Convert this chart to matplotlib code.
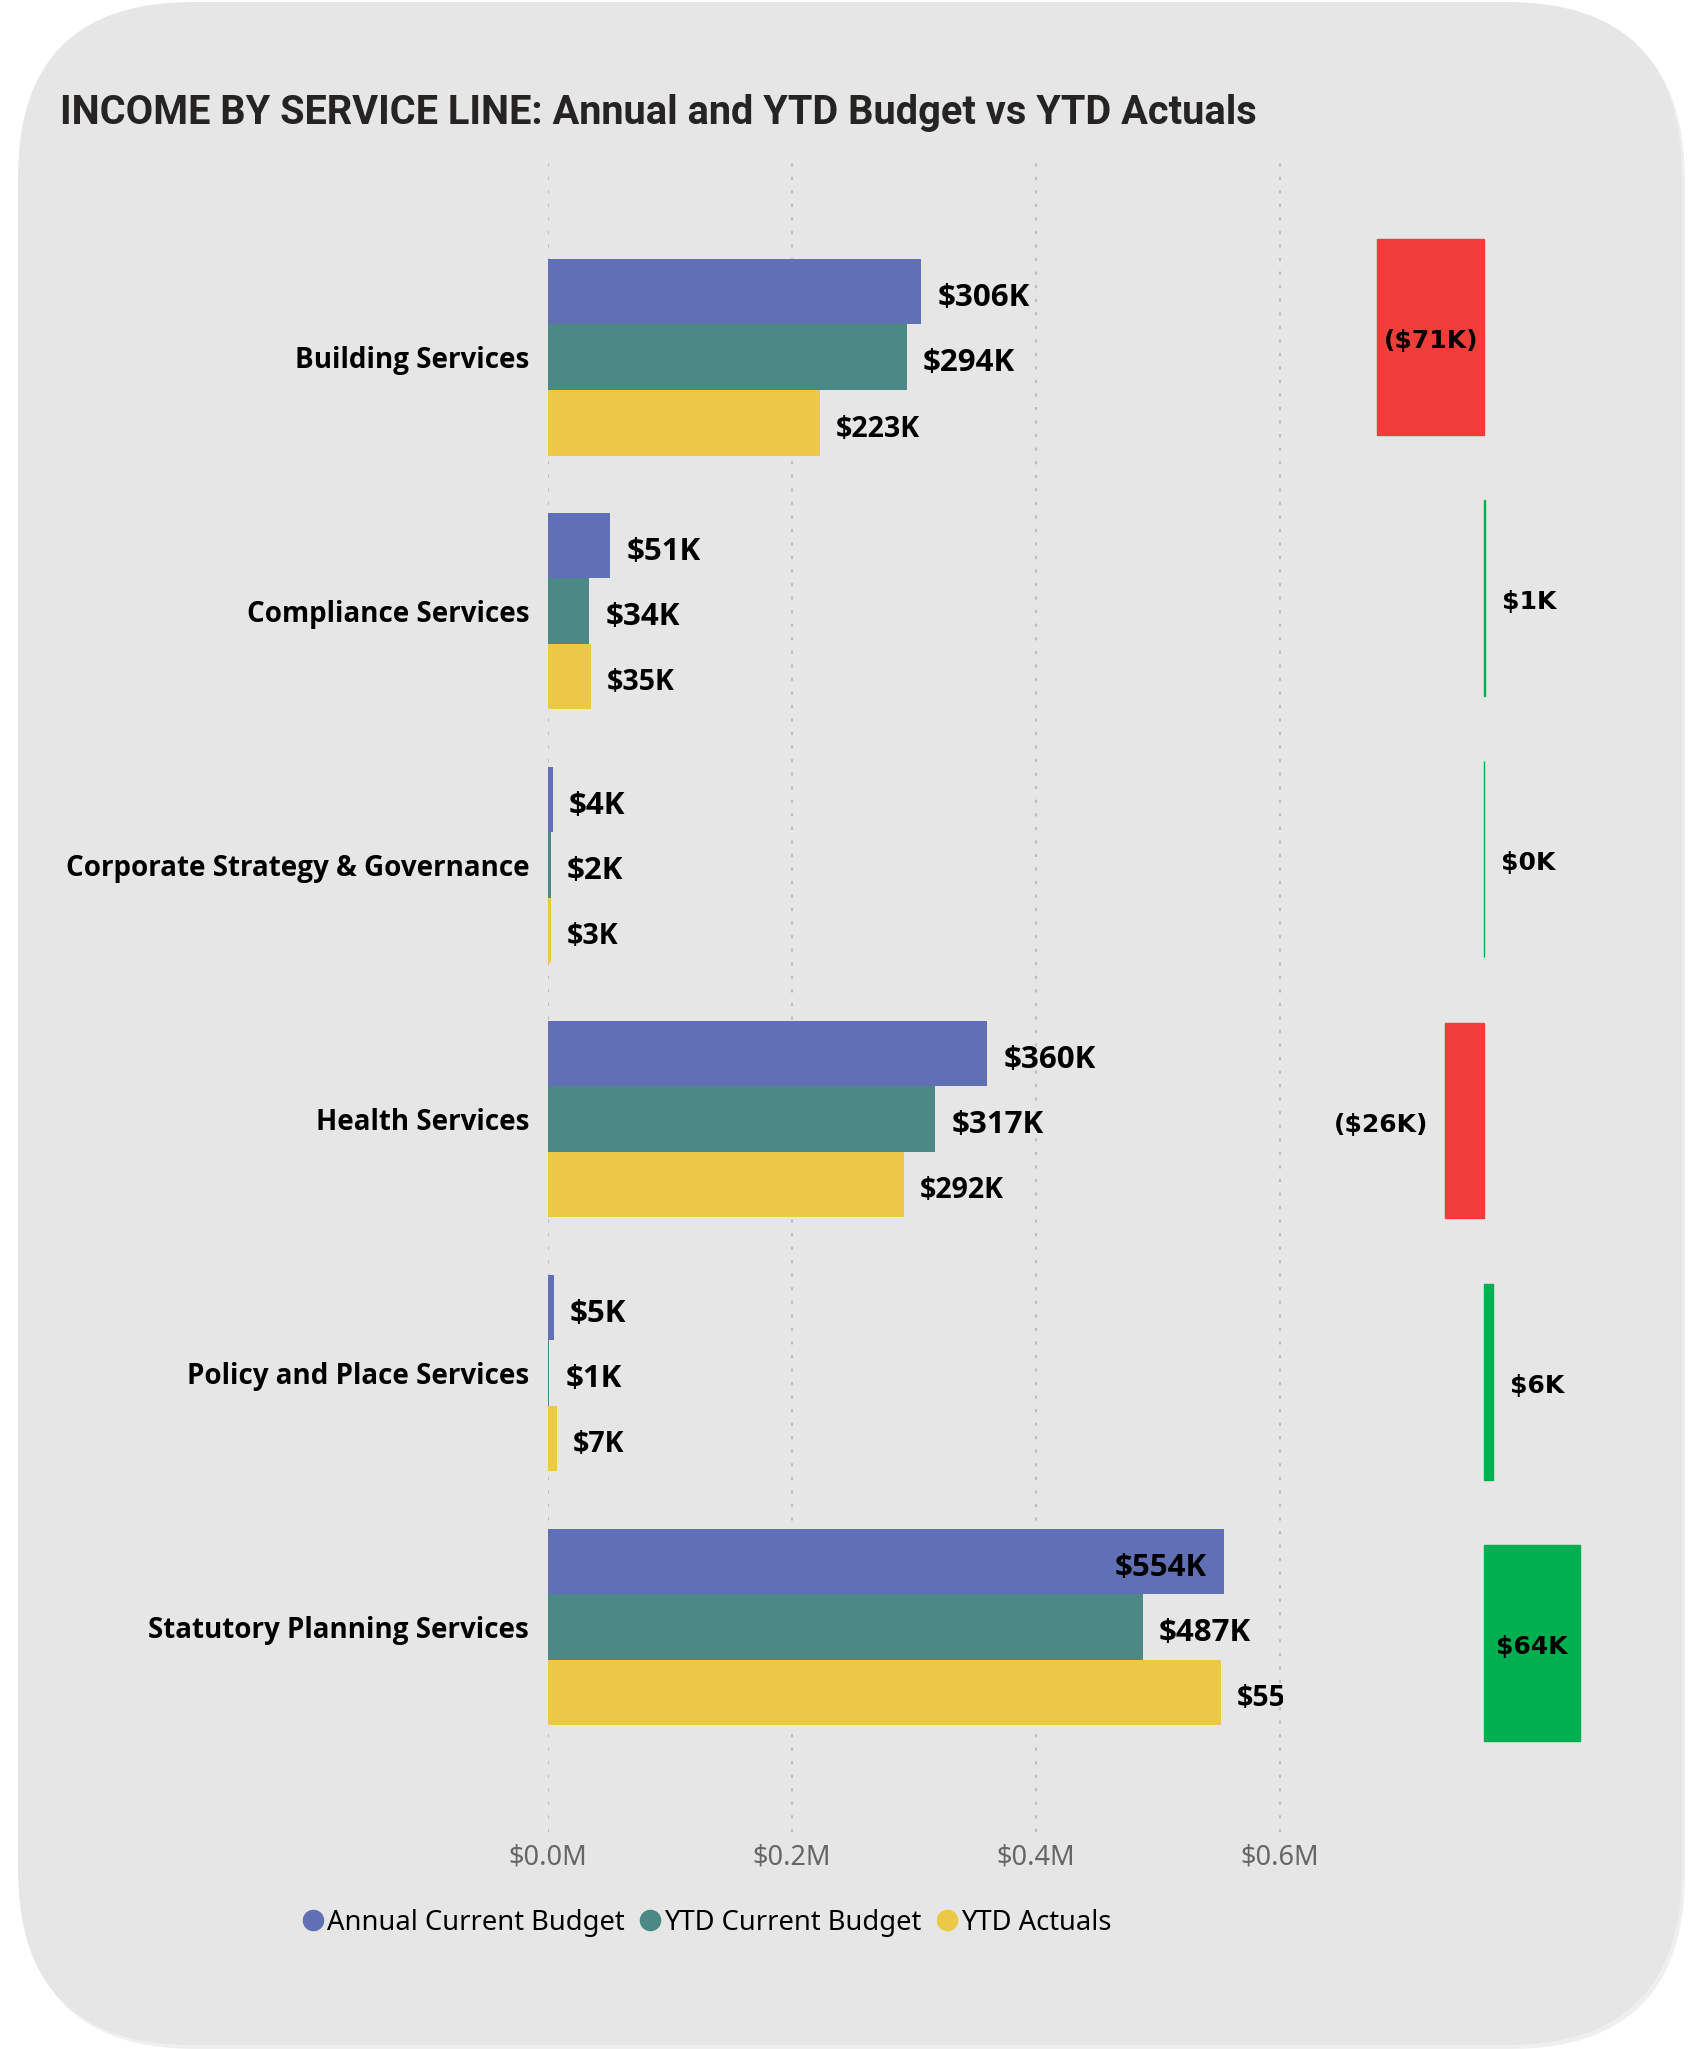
import matplotlib.pyplot as plt
from matplotlib.patches import FancyBboxPatch
from matplotlib.lines import Line2D

# data, values in $K
categories = ["Building Services", "Compliance Services", "Corporate Strategy & Governance",
              "Health Services", "Policy and Place Services", "Statutory Planning Services"]
annual_budget = [306, 51, 3.9, 360, 5, 554]
ytd_budget = [294, 34, 2.4, 317.4, 1, 487.4]
ytd_actuals = [223, 35, 2.6, 291.6, 7, 551.6]
series_names = ["Annual Current Budget", "YTD Current Budget", "YTD Actuals"]
tick_values = [0, 200, 400, 600]
tick_labels = ["$0.0M", "$0.2M", "$0.4M", "$0.6M"]

# variance = YTD actuals - YTD budget
variance = [a - b for a, b in zip(ytd_actuals, ytd_budget)]

series_colors = ["#6170B5", "#4B8886", "#ECC846"]
red, green = "#F03D3A", "#00AF50"
label_font = "Open Sans"

W, H = 1690, 2049
fig = plt.figure(figsize=(W / 100, H / 100), dpi=100, facecolor="white")

# rounded grey card behind everything
bg = fig.add_axes([0, 0, 1, 1], zorder=-10)
bg.set_xlim(0, W)
bg.set_ylim(H, 0)
bg.axis("off")
bg.add_patch(FancyBboxPatch((21, 5), 1664, 2044, boxstyle="round,pad=0,rounding_size=175",
                            facecolor="#EFEFEF", edgecolor="none"))
bg.add_patch(FancyBboxPatch((18, 2), 1664, 2043, boxstyle="round,pad=0,rounding_size=175",
                            facecolor="#E6E6E6", edgecolor="none"))

fig.text(60 / W, 1 - 113 / H, "INCOME BY SERVICE LINE: Annual and YTD Budget vs YTD Actuals",
         fontsize=28.6, fontweight="bold", family=["Roboto", "DejaVu Sans"],
         va="center", ha="left", color="#252423")

# main clustered bar chart
top, bottom = 163, 1832
left, right = 548, 1283
ax = fig.add_axes([left / W, 1 - bottom / H, (right - left) / W, (bottom - top) / H])
ax.set_facecolor("none")
ax.set_xlim(0, (right - left) / 1.22)
ax.set_ylim(5.808, -0.765)

bar_h = 0.258
offsets = [-bar_h, 0, bar_h]
all_series = [annual_budget, ytd_budget, ytd_actuals]
for i, vals in enumerate(all_series):
    ys = [c + offsets[i] for c in range(len(categories))]
    ax.barh(ys, vals, height=bar_h, color=series_colors[i], zorder=2)
    size = 20.5 if i == 2 else 22.5
    for y, v in zip(ys, vals):
        txt = f"${v:.0f}K"
        if i == 0 and v > 500:
            # no room outside -> label sits inside the bar end
            ax.annotate(txt, (v, y), xytext=(-12, -4.5), textcoords="offset points", ha="right",
                        va="center", fontsize=size, fontweight="bold", family=label_font,
                        color="black", zorder=3)
        else:
            ax.annotate(txt, (v, y), xytext=(11.5, -4.5), textcoords="offset points", ha="left",
                        va="center", fontsize=size, fontweight="bold", family=label_font,
                        color="black", clip_on=True, zorder=3)

ax.set_xticks(tick_values)
ax.set_xticklabels(tick_labels, fontsize=19.5, family="Noto Sans", color="#666666")
ax.set_yticks(range(len(categories)))
ax.set_yticklabels(categories, fontsize=20, fontweight="bold", family=label_font, color="black")
ax.tick_params(axis="y", length=0, pad=13.5)
ax.tick_params(axis="x", length=0, pad=8)
ax.grid(axis="x", color="#BDBDBD", linestyle=(0, (1.5, 5)), linewidth=1.5, zorder=0)
for s in ax.spines.values():
    s.set_visible(False)

# variance bars on the right
vx = fig.add_axes([1300 / W, 1 - bottom / H, 360 / W, (bottom - top) / H])
vx.set_facecolor("none")
vx.set_xlim(-184 / 1.5, 176 / 1.5)
vx.set_ylim(5.724, -0.666)
var_colors = [red if v < 0 else green for v in variance]
vx.barh(range(len(categories)), variance, height=0.75, color=var_colors,
        edgecolor=var_colors, linewidth=1)
for y, v in enumerate(variance):
    txt = f"(${-v:.0f}K)" if v < 0 else f"${v:.0f}K"
    if abs(v) > 50:
        vx.annotate(txt, (v / 2, y), xytext=(0, -3), textcoords="offset points", ha="center",
                    va="center", fontsize=18, fontweight="bold", family="DejaVu Sans")
    elif v < 0:
        vx.annotate(txt, (v, y), xytext=(-12, -3), textcoords="offset points", ha="right",
                    va="center", fontsize=18, fontweight="bold", family="DejaVu Sans")
    else:
        vx.annotate(txt, (v, y), xytext=(12, -3), textcoords="offset points", ha="left",
                    va="center", fontsize=18, fontweight="bold", family="DejaVu Sans")
vx.axis("off")

# legend with round markers
handles = [Line2D([], [], marker="o", linestyle="none", markersize=14.5,
                  markerfacecolor=c, markeredgecolor=c) for c in series_colors]
fig.legend(handles, series_names, loc="center left", bbox_to_anchor=(302 / W, 1 - 1923 / H),
           ncol=3, frameon=False, prop={"family": "Noto Sans", "size": 19.7},
           handlelength=0.8, handletextpad=0.1, columnspacing=0.55, borderaxespad=0, borderpad=0)

fig.savefig("out.png", dpi=100, facecolor="white")
